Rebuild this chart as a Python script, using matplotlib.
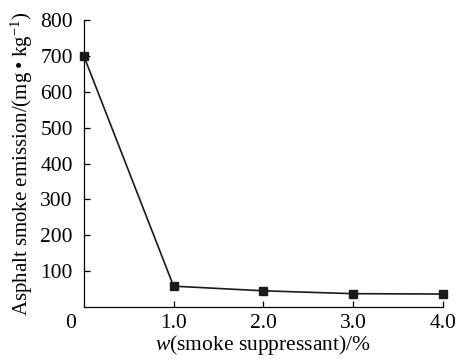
import numpy as np
import matplotlib.pyplot as plt

plt.rcParams['font.family'] = ['Liberation Serif', 'DejaVu Serif']
plt.rcParams['mathtext.fontset'] = 'custom'
plt.rcParams['mathtext.rm'] = 'Liberation Serif'
plt.rcParams['mathtext.it'] = 'Liberation Serif:italic'

dosage = [0, 1.0, 2.0, 3.0, 4.0]
emission = [700, 58, 45, 37, 36]
xticks = [1.0, 2.0, 3.0, 4.0]
xticklabels = ['1.0', '2.0', '3.0', '4.0']
yticks = [100, 200, 300, 400, 500, 600, 700, 800]

fig = plt.figure(figsize=(4.58, 3.59), dpi=100)
ax = fig.add_axes([0.183, 0.145, 0.784, 0.799])
ax.plot(dosage, emission, color='#1a1a1a', lw=1.2, marker='s', ms=5.5,
        clip_on=False, zorder=3)

ax.set_xlim(0, 4.0)
ax.set_ylim(0, 800)
ax.set_xticks(xticks)
ax.set_xticklabels(xticklabels)
ax.set_yticks(yticks)
ax.tick_params(direction='in', length=4, width=0.9, labelsize=15.5, pad=5)
ax.tick_params(axis='y', pad=8)
for s in ['top', 'right']:
    ax.spines[s].set_visible(False)
for s in ['left', 'bottom']:
    ax.spines[s].set_linewidth(0.9)

ax.text(-0.15, -19, '0', transform=ax.transData, fontsize=15.5,
        ha='center', va='top')

ax.set_ylabel('Asphalt smoke emission/(mg\u2009\u2022\u2009kg$^{-1}$)', fontsize=15, labelpad=4)
ax.set_xlabel('$w$(smoke suppressant)/%', fontsize=15.5, labelpad=0)

fig.savefig('out.png', dpi=100)
